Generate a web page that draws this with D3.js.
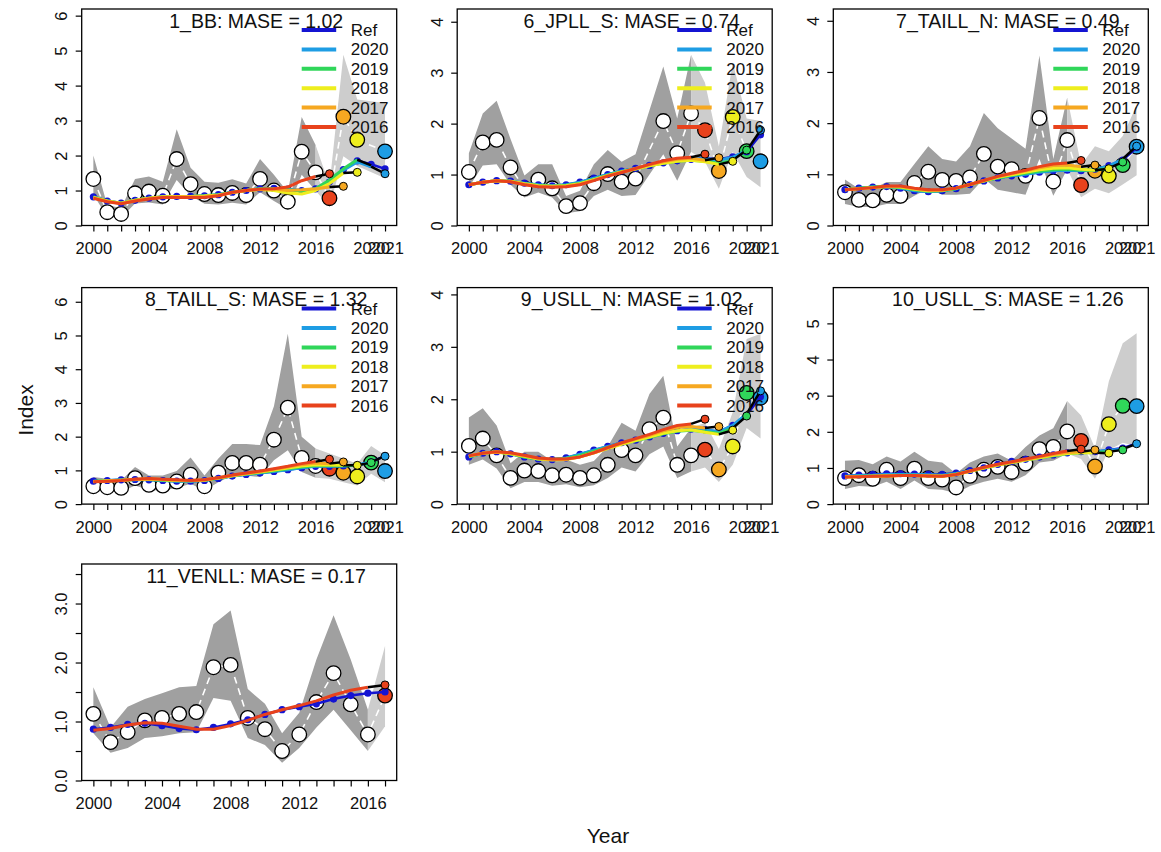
<!DOCTYPE html>
<html><head><meta charset="utf-8">
<script src="https://cdn.jsdelivr.net/npm/d3@7/dist/d3.min.js"></script>
<style>
body{margin:0;background:#fff}
svg{display:block;font-family:Arial,"Liberation Sans",sans-serif}
</style>
</head><body>
<svg id="c" width="1161" height="852"></svg>
<script>
// ---------------- DATA ----------------
const years = [2000,2001,2002,2003,2004,2005,2006,2007,2008,2009,2010,2011,2012,2013,2014,2015,2016,2017,2018,2019,2020,2021];
const yearsVEN = [2000,2001,2002,2003,2004,2005,2006,2007,2008,2009,2010,2011,2012,2013,2014,2015,2016,2017];
const peelYears = [2016,2017,2018,2019,2020];
const legendLabels = ["Ref","2020","2019","2018","2017","2016"];
const xLabels = [2000,2004,2008,2012,2016,2020,2021];
const xLabelsVEN = [2000,2004,2008,2012,2016];

// 1_BB
const BB_obs = [1.33,0.38,0.33,0.92,0.97,0.85,1.90,1.18,0.90,0.87,0.93,0.87,1.33,1.00,0.68,2.11,1.52,0.78,3.11,2.45,null,2.12];
const BB_lo  = [0.88,0.25,0.22,0.63,0.66,0.60,1.30,0.85,0.62,0.60,0.65,0.60,0.95,0.70,0.47,1.45,1.00,0.53,1.98,1.70,null,1.35];
const BB_hi  = [2.00,0.58,0.50,1.33,1.40,1.25,2.75,1.65,1.25,1.22,1.32,1.20,1.90,1.45,0.95,3.10,2.30,1.15,4.88,3.60,null,3.50];
const BB_ref = [0.82,0.70,0.64,0.72,0.78,0.82,0.83,0.83,0.85,0.88,0.95,1.00,1.05,1.06,1.04,1.00,1.05,1.25,1.60,1.85,1.75,1.62];
const BB_p2016 = [0.78,0.68,0.62,0.70,0.76,0.80,0.80,0.80,0.80,0.85,0.95,1.00,1.04,1.05,1.10,1.28,1.40];
const BB_p2017 = [0.79,0.69,0.63,0.71,0.77,0.81,0.82,0.82,0.83,0.86,0.94,1.00,1.04,1.04,1.00,1.02,1.05,1.10];
const BB_p2018 = [0.80,0.70,0.64,0.72,0.78,0.82,0.83,0.83,0.84,0.87,0.94,1.00,1.03,1.00,0.93,0.90,1.00,1.20,1.50];
const BB_p2019 = [0.81,0.70,0.64,0.72,0.78,0.82,0.83,0.83,0.85,0.88,0.95,1.00,1.05,1.05,1.02,0.98,1.05,1.30,1.62,1.88];
const BB_p2020 = [0.82,0.70,0.64,0.72,0.78,0.82,0.83,0.83,0.85,0.88,0.95,1.00,1.05,1.06,1.04,1.00,1.05,1.28,1.58,1.82,1.68];
const BB_pred = [1.48,1.12,1.52,1.72,1.48];

// 6_JPLL_S
const JS_obs = [1.05,1.63,1.68,1.14,0.73,0.90,0.73,0.38,0.44,0.83,1.01,0.86,0.92,null,2.05,1.42,2.20,1.87,1.07,2.13,1.46,1.26];
const JS_lo  = [0.75,1.18,1.20,0.80,0.55,0.65,0.55,0.24,0.28,0.58,0.70,0.58,0.60,null,1.40,0.88,1.45,1.25,0.72,1.45,0.95,0.75];
const JS_hi  = [1.42,2.20,2.45,1.70,0.98,1.20,1.20,0.58,0.68,1.20,1.48,1.25,1.40,null,3.12,2.10,3.35,2.80,1.55,3.20,2.10,2.05];
const JS_ref = [0.80,0.85,0.88,0.87,0.83,0.80,0.78,0.80,0.85,0.93,1.00,1.07,1.12,1.18,1.23,1.27,1.30,1.32,1.30,1.35,1.45,1.78];
const JS_p2016 = [0.80,0.85,0.88,0.86,0.80,0.76,0.75,0.76,0.80,0.88,0.97,1.04,1.12,1.20,1.27,1.32,1.34];
const JS_p2017 = [0.80,0.85,0.88,0.86,0.81,0.77,0.76,0.77,0.81,0.89,0.98,1.05,1.12,1.19,1.25,1.30,1.32,1.28];
const JS_p2018 = [0.80,0.85,0.88,0.87,0.82,0.78,0.77,0.78,0.82,0.90,0.98,1.05,1.11,1.17,1.22,1.26,1.28,1.25,1.20];
const JS_p2019 = [0.80,0.85,0.88,0.87,0.82,0.79,0.77,0.79,0.83,0.91,0.99,1.06,1.11,1.17,1.22,1.26,1.28,1.26,1.22,1.28];
const JS_p2020 = [0.80,0.85,0.88,0.87,0.83,0.80,0.78,0.80,0.85,0.93,1.00,1.07,1.12,1.18,1.23,1.27,1.30,1.31,1.28,1.34,1.47];
const JS_pred = [1.40,1.33,1.26,1.48,1.87];

// 7_TAILL_N
const TN_obs = [0.65,0.50,0.49,0.60,0.58,0.83,1.05,0.89,0.87,0.94,1.40,1.15,1.10,0.97,2.10,0.86,1.67,0.79,1.07,0.97,1.18,1.54];
const TN_lo  = [0.42,0.36,0.36,0.42,0.42,0.58,0.72,0.60,0.60,0.62,0.92,0.70,0.65,0.60,1.30,0.58,1.10,0.55,0.72,0.63,0.80,0.98];
const TN_hi  = [0.90,0.72,0.72,0.85,0.85,1.20,1.55,1.30,1.25,1.55,2.20,1.90,1.70,1.50,3.32,1.30,2.50,1.18,1.55,1.45,1.75,2.35];
const TN_ref = [0.70,0.73,0.75,0.76,0.73,0.68,0.66,0.68,0.72,0.80,0.87,0.93,0.97,1.00,1.04,1.07,1.08,1.07,1.10,1.17,1.28,1.52];
const TN_p2016 = [0.70,0.72,0.74,0.77,0.77,0.73,0.70,0.70,0.73,0.80,0.88,0.96,1.02,1.08,1.15,1.20,1.22];
const TN_p2017 = [0.70,0.72,0.74,0.76,0.76,0.72,0.69,0.69,0.73,0.80,0.88,0.95,1.01,1.07,1.13,1.17,1.18,1.15];
const TN_p2018 = [0.70,0.72,0.74,0.76,0.75,0.71,0.68,0.69,0.73,0.80,0.87,0.94,0.99,1.04,1.09,1.12,1.13,1.10,1.08];
const TN_p2019 = [0.70,0.73,0.75,0.76,0.74,0.70,0.67,0.68,0.72,0.80,0.87,0.93,0.98,1.02,1.06,1.09,1.10,1.08,1.08,1.12];
const TN_p2020 = [0.70,0.73,0.75,0.76,0.73,0.68,0.66,0.68,0.72,0.80,0.87,0.93,0.97,1.00,1.04,1.07,1.08,1.07,1.10,1.16,1.30];
const TN_pred = [1.27,1.18,1.11,1.24,1.55];

// 8_TAILL_S
const TS_obs = [0.53,0.50,0.48,0.77,0.57,0.55,0.67,0.87,0.53,0.93,1.22,1.22,1.17,1.91,2.86,1.37,1.13,1.05,0.93,0.82,1.23,0.98];
const TS_lo  = [0.40,0.36,0.36,0.55,0.42,0.40,0.48,0.60,0.40,0.65,0.85,0.85,0.80,1.30,1.60,0.95,0.78,0.75,0.65,0.55,0.90,0.65];
const TS_hi  = [0.80,0.75,0.70,1.10,0.85,0.85,0.98,1.38,0.85,1.35,1.78,1.78,1.75,2.90,5.05,2.00,1.65,1.50,1.35,1.20,1.72,1.45];
const TS_ref = [0.68,0.70,0.72,0.73,0.72,0.70,0.68,0.68,0.70,0.76,0.83,0.88,0.92,0.97,1.02,1.08,1.12,1.12,1.13,1.15,1.25,1.43];
const TS_p2016 = [0.66,0.68,0.70,0.74,0.76,0.74,0.72,0.70,0.72,0.78,0.86,0.92,0.98,1.05,1.12,1.20,1.26];
const TS_p2017 = [0.66,0.68,0.70,0.74,0.75,0.73,0.71,0.70,0.72,0.78,0.85,0.91,0.96,1.03,1.10,1.17,1.22,1.20];
const TS_p2018 = [0.67,0.69,0.71,0.73,0.74,0.72,0.70,0.69,0.71,0.77,0.84,0.90,0.95,1.01,1.07,1.13,1.17,1.16,1.15];
const TS_p2019 = [0.67,0.69,0.71,0.73,0.73,0.71,0.69,0.69,0.71,0.77,0.84,0.89,0.94,0.99,1.05,1.10,1.14,1.14,1.14,1.15];
const TS_p2020 = [0.68,0.70,0.72,0.73,0.72,0.70,0.68,0.68,0.70,0.76,0.83,0.88,0.92,0.97,1.02,1.08,1.12,1.12,1.13,1.16,1.25];
const TS_pred = [1.33,1.25,1.15,1.23,1.42];

// 9_USLL_N
const UN_obs = [1.11,1.25,0.93,0.50,0.64,0.63,0.55,0.56,0.50,0.55,0.75,1.03,0.93,1.43,1.65,0.75,0.93,1.04,0.66,1.10,2.12,2.03];
const UN_lo  = [0.75,0.85,0.68,0.30,0.42,0.42,0.35,0.38,0.32,0.36,0.50,0.70,0.62,0.95,1.10,0.50,0.62,0.70,0.42,0.75,1.45,1.25];
const UN_hi  = [1.65,1.83,1.50,0.78,1.00,1.00,0.82,0.85,0.75,0.82,1.10,1.55,1.40,2.10,2.45,1.10,1.45,1.55,1.05,1.75,3.15,3.25];
const UN_ref = [0.90,0.97,1.00,0.96,0.90,0.86,0.85,0.88,0.95,1.03,1.10,1.17,1.22,1.28,1.35,1.40,1.43,1.42,1.38,1.50,1.70,2.05];
const UN_p2016 = [0.92,0.97,1.00,0.98,0.93,0.88,0.86,0.86,0.90,0.98,1.08,1.17,1.25,1.33,1.42,1.50,1.53];
const UN_p2017 = [0.92,0.97,1.00,0.97,0.92,0.87,0.85,0.86,0.90,0.98,1.07,1.16,1.24,1.31,1.40,1.46,1.48,1.45];
const UN_p2018 = [0.91,0.97,0.99,0.96,0.91,0.86,0.84,0.85,0.90,0.98,1.06,1.14,1.21,1.28,1.35,1.40,1.42,1.37,1.33];
const UN_p2019 = [0.90,0.97,1.00,0.96,0.90,0.86,0.85,0.87,0.93,1.01,1.08,1.15,1.21,1.27,1.34,1.39,1.41,1.38,1.35,1.45];
const UN_p2020 = [0.90,0.97,1.00,0.96,0.90,0.86,0.85,0.88,0.95,1.03,1.10,1.17,1.22,1.28,1.35,1.40,1.43,1.42,1.38,1.50,1.72];
const UN_pred = [1.62,1.48,1.41,1.68,2.16];

// 10_USLL_S
const US_obs = [0.72,0.80,0.70,0.95,0.72,0.98,0.72,0.68,0.46,0.78,0.95,1.03,0.89,1.12,1.52,1.58,2.01,1.75,1.04,2.21,2.72,2.71];
const US_lo  = [0.42,0.50,0.48,0.62,0.42,0.65,0.42,0.40,0.30,0.50,0.62,0.70,0.62,0.80,1.15,1.20,1.40,1.25,0.70,1.50,1.70,1.60];
const US_hi  = [1.20,1.22,1.10,1.32,1.18,1.45,1.20,1.15,0.85,1.15,1.32,1.40,1.20,1.58,1.90,2.10,2.85,2.45,1.55,3.40,4.45,4.73];
const US_ref = [0.78,0.80,0.82,0.84,0.84,0.83,0.82,0.82,0.86,0.93,1.00,1.10,1.18,1.24,1.30,1.36,1.42,1.45,1.45,1.50,1.55,1.68];
const US_p2016 = [0.75,0.76,0.77,0.78,0.79,0.79,0.78,0.77,0.82,0.92,1.02,1.10,1.17,1.25,1.32,1.40,1.47];
const US_p2017 = [0.75,0.76,0.77,0.78,0.79,0.79,0.78,0.77,0.82,0.91,1.01,1.09,1.16,1.23,1.30,1.37,1.43,1.45];
const US_p2018 = [0.75,0.76,0.77,0.78,0.79,0.79,0.78,0.77,0.82,0.91,1.00,1.08,1.15,1.22,1.28,1.35,1.40,1.42,1.42];
const US_p2019 = [0.76,0.77,0.78,0.79,0.80,0.80,0.79,0.78,0.83,0.91,1.00,1.08,1.15,1.22,1.28,1.34,1.39,1.42,1.43,1.45];
const US_p2020 = [0.77,0.79,0.80,0.82,0.82,0.82,0.81,0.80,0.85,0.92,1.00,1.09,1.17,1.23,1.29,1.35,1.41,1.44,1.45,1.49,1.52];
const US_pred = [1.52,1.50,1.41,1.50,1.67];

// 11_VENLL
const VE_obs = [1.13,0.65,0.82,1.02,1.06,1.13,1.16,1.92,1.96,1.06,0.87,0.50,0.78,1.33,1.82,1.29,0.78,1.44];
const VE_lo  = [0.80,0.47,0.55,0.72,0.75,0.80,0.82,1.40,1.35,0.72,0.60,0.30,0.55,0.90,1.20,0.85,0.50,0.92];
const VE_hi  = [1.58,0.90,1.25,1.38,1.48,1.58,1.60,2.65,2.88,1.55,1.30,0.80,1.15,2.05,2.80,2.05,1.20,2.28];
const VE_ref = [0.87,0.90,0.95,0.97,0.93,0.88,0.86,0.90,0.96,1.03,1.12,1.20,1.25,1.30,1.38,1.44,1.48,1.50];
const VE_p2016 = [0.85,0.88,0.94,0.98,0.97,0.92,0.87,0.87,0.93,1.02,1.12,1.20,1.27,1.35,1.45,1.53,1.58];
const VE_pred = [1.62];

// ---------------- STYLE / LAYOUT ----------------
const refColor = "#1414d2";
const peelColor = {2016:"#e8421c",2017:"#f6a821",2018:"#eeee1e",2019:"#30d65a",2020:"#1e9de4"};
const legendColors = [refColor, peelColor[2020], peelColor[2019], peelColor[2018], peelColor[2017], peelColor[2016]];
const colLeft = [81.7, 457.2, 833.3];
const rowTop = [9, 287.6, 564];
const W = 315, H = 216.5;

const panels = [
  {title:"1_BB: MASE = 1.02", row:0,col:0, years, obs:BB_obs, lo:BB_lo, hi:BB_hi, ref:BB_ref,
   peels:[BB_p2016,BB_p2017,BB_p2018,BB_p2019,BB_p2020], pred:BB_pred, ymax:6.19, yticks:[0,1,2,3,4,5,6], yfmt:d3.format("d"), legend:true, xlab:xLabels},
  {title:"6_JPLL_S: MASE = 0.74", row:0,col:1, years, obs:JS_obs, lo:JS_lo, hi:JS_hi, ref:JS_ref,
   peels:[JS_p2016,JS_p2017,JS_p2018,JS_p2019,JS_p2020], pred:JS_pred, ymax:4.25, yticks:[0,1,2,3,4], yfmt:d3.format("d"), legend:true, xlab:xLabels},
  {title:"7_TAILL_N: MASE = 0.49", row:0,col:2, years, obs:TN_obs, lo:TN_lo, hi:TN_hi, ref:TN_ref,
   peels:[TN_p2016,TN_p2017,TN_p2018,TN_p2019,TN_p2020], pred:TN_pred, ymax:4.23, yticks:[0,1,2,3,4], yfmt:d3.format("d"), legend:true, xlab:xLabels},
  {title:"8_TAILL_S: MASE = 1.32", row:1,col:0, years, obs:TS_obs, lo:TS_lo, hi:TS_hi, ref:TS_ref,
   peels:[TS_p2016,TS_p2017,TS_p2018,TS_p2019,TS_p2020], pred:TS_pred, ymax:6.42, yticks:[0,1,2,3,4,5,6], yfmt:d3.format("d"), legend:true, xlab:xLabels},
  {title:"9_USLL_N: MASE = 1.02", row:1,col:1, years, obs:UN_obs, lo:UN_lo, hi:UN_hi, ref:UN_ref,
   peels:[UN_p2016,UN_p2017,UN_p2018,UN_p2019,UN_p2020], pred:UN_pred, ymax:4.13, yticks:[0,1,2,3,4], yfmt:d3.format("d"), legend:true, xlab:xLabels},
  {title:"10_USLL_S: MASE = 1.26", row:1,col:2, years, obs:US_obs, lo:US_lo, hi:US_hi, ref:US_ref,
   peels:[US_p2016,US_p2017,US_p2018,US_p2019,US_p2020], pred:US_pred, ymax:5.99, yticks:[0,1,2,3,4,5], yfmt:d3.format("d"), legend:false, xlab:xLabels},
  {title:"11_VENLL: MASE = 0.17", row:2,col:0, years:yearsVEN, obs:VE_obs, lo:VE_lo, hi:VE_hi, ref:VE_ref,
   peels:[VE_p2016], pred:VE_pred, ymax:3.67, yticks:[0,0.5,1,1.5,2,2.5,3,3.5], yfmt:d3.format(".1f"), ylabelEvery:[0,1,2,3], legend:false, xlab:xLabelsVEN}
];

const svg = d3.select("#c");
const defs = svg.append("defs");

panels.forEach((p, pi) => {
  const g = svg.append("g").attr("transform", `translate(${colLeft[p.col]},${rowTop[p.row]})`);
  const y0 = p.years[0], y1 = p.years[p.years.length-1];
  const pad = (y1 - y0) * 0.04;
  const xs = d3.scaleLinear().domain([y0 - pad, y1 + pad]).range([0, W]);
  const ys = d3.scaleLinear().domain([0, p.ymax]).range([H, 0]);

  defs.append("clipPath").attr("id", "clip" + pi)
    .append("rect").attr("x", 0).attr("y", 0).attr("width", W).attr("height", H);
  const plot = g.append("g").attr("clip-path", `url(#clip${pi})`);

  const rec = p.years.map((yr, i) => ({yr, obs:p.obs[i], lo:p.lo[i], hi:p.hi[i]})).filter(d => d.obs != null);
  const hasObs = new Set(rec.map(d => d.yr));
  const firstPeel = peelYears[0];
  const area = d3.area().x(d => xs(d.yr)).y0(d => ys(d.lo)).y1(d => ys(d.hi));
  plot.append("path").datum(rec.filter(d => d.yr <= firstPeel)).attr("d", area).attr("fill", "#a0a0a0");
  plot.append("path").datum(rec.filter(d => d.yr >= firstPeel)).attr("d", area).attr("fill", "#cdcdcd");

  const line = d3.line().x(d => xs(d[0])).y(d => ys(d[1]));
  plot.append("path").datum(rec.map(d => [d.yr, d.obs])).attr("d", line)
    .attr("fill", "none").attr("stroke", "#fff").attr("stroke-width", 1.6).attr("stroke-dasharray", "7,5");

  plot.selectAll("circle.obs").data(rec.filter(d => d.yr <= firstPeel)).join("circle")
    .attr("cx", d => xs(d.yr)).attr("cy", d => ys(d.obs)).attr("r", 7.3)
    .attr("fill", "#fff").attr("stroke", "#000").attr("stroke-width", 1.3);

  plot.selectAll("circle.hobs").data(rec.filter(d => d.yr > firstPeel)).join("circle")
    .attr("cx", d => xs(d.yr)).attr("cy", d => ys(d.obs)).attr("r", 7.3)
    .attr("fill", d => peelColor[d.yr - 1]).attr("stroke", "#000").attr("stroke-width", 1.3);

  const refPts = p.years.map((yr, i) => [yr, p.ref[i]]);
  plot.append("path").datum(refPts).attr("d", line).attr("fill", "none")
    .attr("stroke", refColor).attr("stroke-width", 2.5);
  plot.selectAll("circle.ref").data(refPts).join("circle")
    .attr("cx", d => xs(d[0])).attr("cy", d => ys(d[1])).attr("r", 3.6).attr("fill", refColor);

  for (let k = p.peels.length - 1; k >= 0; k--) {
    const py = peelYears[k];
    const fit = p.peels[k].map((v, i) => [p.years[i], v]);
    plot.append("path").datum(fit).attr("d", line).attr("fill", "none")
      .attr("stroke", peelColor[py]).attr("stroke-width", 3).attr("stroke-linejoin", "round");
    const pv = p.pred[k];
    if (pv != null) {
      const seg = [fit[fit.length - 1], [py + 1, pv]];
      plot.append("path").datum(seg).attr("d", line).attr("fill", "none")
        .attr("stroke", "#000").attr("stroke-width", 2.5);
      if (hasObs.has(py + 1)) {
        plot.append("circle").attr("cx", xs(py + 1)).attr("cy", ys(pv)).attr("r", 4)
          .attr("fill", peelColor[py]).attr("stroke", "#000").attr("stroke-width", 1);
      }
    }
  }

  const xAxis = d3.axisBottom(xs).tickValues(p.years).tickSize(6).tickPadding(11)
    .tickFormat(d => p.xlab.includes(d) ? String(d) : "");
  const gx = g.append("g").attr("transform", `translate(0,${H})`).call(xAxis);
  gx.select(".domain").remove();
  gx.selectAll("line").attr("stroke", "#000").attr("stroke-width", 1.2);
  gx.selectAll("text").attr("font-size", 16.5).attr("fill", "#111").attr("font-family", "Arial, 'Liberation Sans', sans-serif");

  const yAxis = d3.axisLeft(ys).tickValues(p.yticks).tickSize(6)
    .tickFormat(d => (!p.ylabelEvery || p.ylabelEvery.includes(d)) ? p.yfmt(d) : "");
  const gy = g.append("g").call(yAxis);
  gy.select(".domain").remove();
  gy.selectAll("line").attr("stroke", "#000").attr("stroke-width", 1.2);
  gy.selectAll("text").attr("font-size", 16.5).attr("fill", "#111")
    .attr("font-family", "Arial, 'Liberation Sans', sans-serif")
    .attr("x", 0).attr("dy", 0).attr("text-anchor", "middle")
    .attr("transform", "translate(-14.5,0) rotate(-90)");

  g.append("rect").attr("x", 0).attr("y", 0).attr("width", W).attr("height", H)
    .attr("fill", "none").attr("stroke", "#000").attr("stroke-width", 1.3);

  g.append("text").attr("x", W / 2 + 17).attr("y", 18.5).attr("text-anchor", "middle")
    .attr("font-size", 19.5).attr("fill", "#111").text(p.title);

  if (p.legend) {
    const lg = g.append("g");
    legendLabels.forEach((lab, i) => {
      const yy = 21 + i * 19.4;
      lg.append("line").attr("x1", 220).attr("x2", 254.5).attr("y1", yy).attr("y2", yy)
        .attr("stroke", legendColors[i]).attr("stroke-width", 4);
      lg.append("text").attr("x", 269).attr("y", yy + 6).attr("font-size", 17).attr("fill", "#111").text(lab);
    });
  }
});

svg.append("text").attr("transform", "translate(33,410) rotate(-90)").attr("text-anchor", "middle")
  .attr("font-size", 21).attr("fill", "#111").text("Index");
svg.append("text").attr("x", 608).attr("y", 843).attr("text-anchor", "middle")
  .attr("font-size", 21).attr("fill", "#111").text("Year");
</script>
</body></html>
